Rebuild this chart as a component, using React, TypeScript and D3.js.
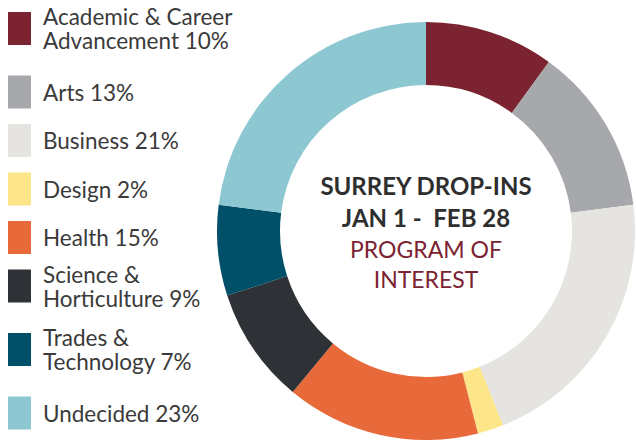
import React from "react";
import * as d3 from "d3";

const categories = [
  "Academic & Career Advancement",
  "Arts",
  "Business",
  "Design",
  "Health",
  "Science & Horticulture",
  "Trades & Technology",
  "Undecided",
];
const legendLines = [
  ["Academic & Career", "Advancement 10%"],
  ["Arts 13%"],
  ["Business 21%"],
  ["Design 2%"],
  ["Health 15%"],
  ["Science &", "Horticulture 9%"],
  ["Trades &", "Technology 7%"],
  ["Undecided 23%"],
];
const values = [10, 13, 21, 2, 15, 9, 7, 23];
const colors = ["#7B2331", "#A6A8AB", "#E5E4E0", "#FDE58A", "#E8693A", "#2E3135", "#00506A", "#8DC8D2"];
const titleLines = ["SURREY DROP-INS", "JAN 1 -\u00A0\u00A0FEB 28"];
const subtitleLines = ["PROGRAM OF", "INTEREST"];

const W = 636;
const H = 440;
const cx = 426;
const cy = 231;
const outerR = 209;
const innerR = 146;

export default function App() {
  const data = categories.map((c, i) => ({ name: c, value: values[i], color: colors[i] }));
  const pie = d3.pie<any>().sort(null).value((d) => d.value);
  const arc = d3.arc<any>().innerRadius(innerR).outerRadius(outerR);
  const arcs = pie(data);

  let y = 12;
  const legendItems = legendLines.map((lines, i) => {
    const top = y;
    y += 48.5 + 15 * (lines.length - 1);
    return { lines, top, color: colors[i] };
  });

  const font = "Lato, 'Open Sans', sans-serif";

  return (
    <svg width={W} height={H} style={{ position: "absolute", left: 0, top: 0, background: "#fff" }}>
      <g transform={`translate(${cx},${cy})`}>
        {arcs.map((a, i) => (
          <path key={i} d={arc(a) || ""} fill={a.data.color} />
        ))}
      </g>
      {legendItems.map((it, i) => (
        <g key={i}>
          <rect x={8} y={it.top} width={23} height={33} fill={it.color} />
          <text
            x={43}
            y={it.top + 25 - 12 * (it.lines.length - 1)}
            fontFamily={font}
            fontSize={22.5}
            fill="#3a3a3a"
          >
            {it.lines.map((ln, j) => (
              <tspan key={j} x={43} dy={j === 0 ? 0 : 24}>
                {ln}
              </tspan>
            ))}
          </text>
        </g>
      ))}
      <text x={cx} y={195} textAnchor="middle" fontFamily={font} fontSize={24} fontWeight="bold" fill="#2e2e2e">
        {titleLines.map((t, i) => (
          <tspan key={i} x={cx} dy={i === 0 ? 0 : 32}>
            {t}
          </tspan>
        ))}
      </text>
      <text x={cx} y={258} textAnchor="middle" fontFamily={font} fontSize={23} fill="#7B2331">
        {subtitleLines.map((t, i) => (
          <tspan key={i} x={cx} dy={i === 0 ? 0 : 30}>
            {t}
          </tspan>
        ))}
      </text>
    </svg>
  );
}
